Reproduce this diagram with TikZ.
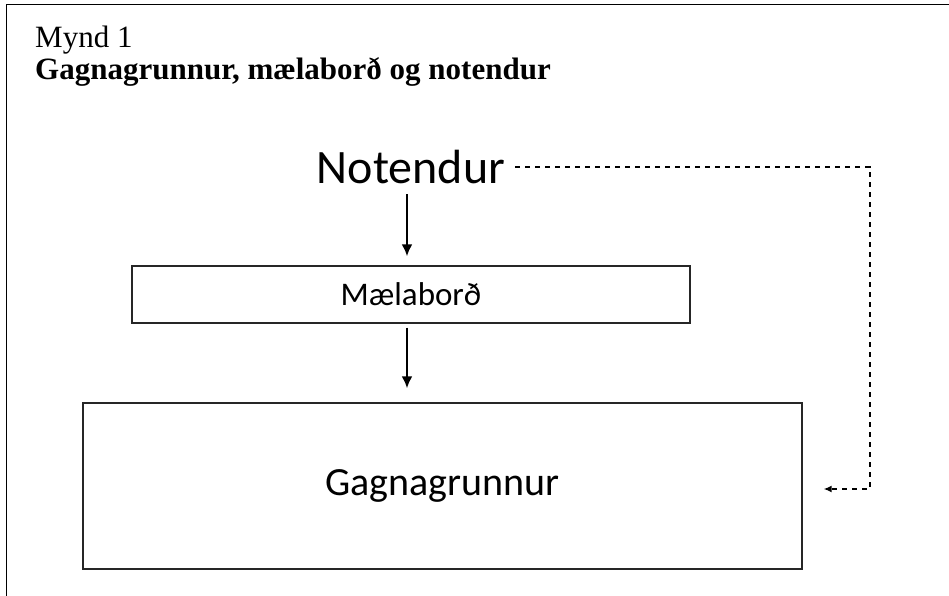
\documentclass[tikz,border=0pt]{standalone}
\usepackage{fontspec}
\setmainfont{Liberation Serif}
\newfontfamily\boxfont{Carlito}
\usetikzlibrary{arrows.meta}

\tikzset{
  kassi/.style={draw=black!85,line width=1.3pt,font=\boxfont},
  or/.style={-{Latex[length=12pt,width=11pt]},line width=2.7pt},
  strik/.style={-{Latex[length=8pt,width=7pt]},line width=1.5pt,dash pattern=on 5pt off 5pt}
}

\begin{document}
\begin{tikzpicture}[x=1pt,y=-1pt]
  \useasboundingbox (0,0) rectangle (949,596);

  % rammi
  \draw[line width=1.6pt] (6.5,596) -- (6.5,4.5) -- (949,4.5);

  % fyrirsogn
  \node[anchor=base west,inner sep=0,font=\fontsize{31}{36}\selectfont] (mynd) at (35,48) {Mynd 1};
  \node[anchor=base west,inner sep=0,font=\fontsize{31}{36}\selectfont\bfseries] (titill) at (35,80) {Gagnagrunnur, mælaborð og notendur};

  % hnutar
  \node[inner sep=0,font=\boxfont\fontsize{48}{52}\selectfont] (notendur) at (411,167) {Notendur};
  \node[kassi,minimum width=558,minimum height=57,font=\boxfont\fontsize{33}{38}\selectfont] (maelabord) at (411,294.5) {Mælaborð};
  \node[kassi,minimum width=719,minimum height=166,font=\boxfont\fontsize{40}{46}\selectfont] (grunnur) at (442.5,486) {Gagnagrunnur};
  \coordinate (horn) at (870,489);

  % orvar
  \draw[or,shorten <=10pt,shorten >=9pt] ([xshift=-4pt]notendur.south) -- ([xshift=-4pt]maelabord.north);
  \draw[or,shorten <=4pt,shorten >=14pt] ([xshift=-4pt]maelabord.south) -- ([xshift=-4pt]maelabord.south |- grunnur.north);
  \draw[strik] ([xshift=10pt]notendur.east) -| (horn) -- ([xshift=21pt]grunnur.east |- horn);
\end{tikzpicture}
\end{document}
